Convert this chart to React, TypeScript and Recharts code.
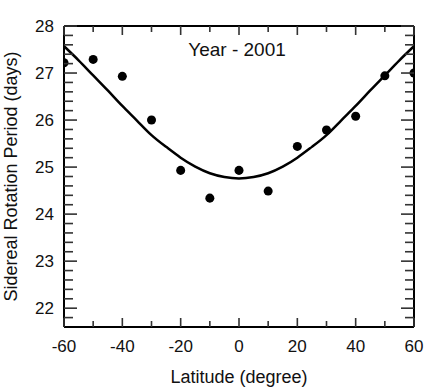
import React from 'react';
import { ComposedChart, Line, Scatter, XAxis, YAxis } from 'recharts';

const latitudes = [-60, -50, -40, -30, -20, -10, 0, 10, 20, 30, 40, 50, 60];
const periods = [27.22, 27.29, 26.93, 26.0, 24.93, 24.34, 24.93, 24.49, 25.44, 25.79, 26.08, 26.94, 27.0];

const fitLatitudes = [-60, -55, -50, -45, -40, -35, -30, -25, -20, -15, -10, -5, 0, 5, 10, 15, 20, 25, 30, 35, 40, 45, 50, 55, 60];
const fitPeriods = [27.57, 27.27, 26.95, 26.63, 26.3, 25.99, 25.68, 25.43, 25.2, 25.01, 24.87, 24.79, 24.76, 24.79, 24.87, 25.01, 25.2, 25.43, 25.68, 25.99, 26.3, 26.63, 26.95, 27.27, 27.57];

const xTicks = [-60, -50, -40, -30, -20, -10, 0, 10, 20, 30, 40, 50, 60];
const yTicks = [21.8, 22, 22.2, 22.4, 22.6, 22.8, 23, 23.2, 23.4, 23.6, 23.8, 24, 24.2, 24.4, 24.6, 24.8, 25, 25.2, 25.4, 25.6, 25.8, 26, 26.2, 26.4, 26.6, 26.8, 27, 27.2, 27.4, 27.6, 27.8, 28];

const title = 'Year - 2001';
const xTitle = 'Latitude (degree)';
const yTitle = 'Sidereal Rotation Period (days)';

const points = latitudes.map((lat, i) => ({ lat, period: periods[i] }));
const fit = fitLatitudes.map((lat, i) => ({ lat, period: fitPeriods[i] }));

const FONT = '"Liberation Sans", Arial, Helvetica, sans-serif';
const TICK_COLOR = '#333';
const T = 1.6;

const isMajorX = (v: number) => Math.abs(v) % 20 === 0;
const isMajorY = (v: number) => Math.abs(v - Math.round(v)) < 1e-6;

const BottomTick = (props: any) => {
  const { x, y, payload } = props;
  const major = isMajorX(payload.value);
  const len = major ? 8 : 5;
  return (
    <g>
      <rect x={x - T / 2} y={y - len - 1} width={T} height={len + 1} fill={TICK_COLOR} />
      {major && (
        <text x={x} y={y + 25} textAnchor="middle" fontSize={17} fontFamily={FONT} fill="#111">
          {String(payload.value)}
        </text>
      )}
    </g>
  );
};

const TopTick = (props: any) => {
  const { x, y, payload } = props;
  const len = isMajorX(payload.value) ? 8 : 5;
  return <rect x={x - T / 2} y={y} width={T} height={len + 1} fill={TICK_COLOR} />;
};

const LeftTick = (props: any) => {
  const { x, y, payload } = props;
  const major = isMajorY(payload.value);
  const len = major ? 12 : 8;
  return (
    <g>
      <rect x={x} y={y - T / 2} width={len + 1} height={T} fill={TICK_COLOR} />
      {major && (
        <text x={x - 10} y={y + 6} textAnchor="end" fontSize={17} fontFamily={FONT} fill="#111">
          {String(Math.round(payload.value))}
        </text>
      )}
    </g>
  );
};

const RightTick = (props: any) => {
  const { x, y, payload } = props;
  const len = isMajorY(payload.value) ? 12 : 8;
  return <rect x={x - len - 1} y={y - T / 2} width={len + 1} height={T} fill={TICK_COLOR} />;
};

export default function App() {
  return (
    <div style={{ position: 'absolute', left: 0, top: 0, width: 441, height: 391, background: '#fff' }}>
      <ComposedChart width={441} height={391} margin={{ top: 0, right: 0, bottom: 0, left: 0 }}>
        <XAxis
          xAxisId="bottom"
          dataKey="lat"
          type="number"
          domain={[-60, 60]}
          ticks={xTicks}
          interval={0}
          height={64}
          tickSize={0}
          tickMargin={0}
          tickLine={false}
          axisLine={{ stroke: '#000', strokeWidth: 2 }}
          tick={(p: any) => <BottomTick {...p} />}
          allowDataOverflow
          label={{
            content: (p: any) => {
              const vb = p.viewBox || {};
              return (
                <text x={vb.x + vb.width / 2} y={383} textAnchor="middle" fontSize={18} fontFamily={FONT} fill="#111">
                  {xTitle}
                </text>
              );
            },
          }}
        />
        <XAxis
          xAxisId="top"
          orientation="top"
          dataKey="lat"
          type="number"
          domain={[-60, 60]}
          ticks={xTicks}
          interval={0}
          height={26}
          tickSize={0}
          tickMargin={0}
          tickLine={false}
          axisLine={{ stroke: '#000', strokeWidth: 2 }}
          tick={(p: any) => <TopTick {...p} />}
          allowDataOverflow
          label={{
            content: () => (
              <text x={237} y={56} textAnchor="middle" fontSize={19} fontFamily={FONT} fill="#111">
                {title}
              </text>
            ),
          }}
        />
        <YAxis
          yAxisId="left"
          type="number"
          domain={[21.6, 28]}
          ticks={yTicks}
          interval={0}
          width={64}
          tickSize={0}
          tickMargin={0}
          tickLine={false}
          axisLine={{ stroke: '#000', strokeWidth: 2 }}
          tick={(p: any) => <LeftTick {...p} />}
          allowDataOverflow
          label={{
            content: (p: any) => {
              const vb = p.viewBox || {};
              const cy = vb.y + vb.height / 2;
              return (
                <text
                  x={17}
                  y={cy}
                  transform={`rotate(-90, 17, ${cy})`}
                  textAnchor="middle"
                  fontSize={18}
                  fontFamily={FONT}
                  fill="#111"
                >
                  {yTitle}
                </text>
              );
            },
          }}
        />
        <YAxis
          yAxisId="right"
          orientation="right"
          type="number"
          domain={[21.6, 28]}
          ticks={yTicks}
          interval={0}
          width={27}
          tickSize={0}
          tickMargin={0}
          tickLine={false}
          axisLine={{ stroke: '#000', strokeWidth: 2 }}
          tick={(p: any) => <RightTick {...p} />}
          allowDataOverflow
        />
        <Line
          xAxisId="bottom"
          yAxisId="left"
          data={fit}
          dataKey="period"
          type="natural"
          stroke="#000"
          strokeWidth={2.5}
          dot={false}
          activeDot={false}
          isAnimationActive={false}
        />
        <Scatter
          xAxisId="bottom"
          yAxisId="left"
          data={points}
          dataKey="period"
          fill="#000"
          isAnimationActive={false}
        />
      </ComposedChart>
    </div>
  );
}
